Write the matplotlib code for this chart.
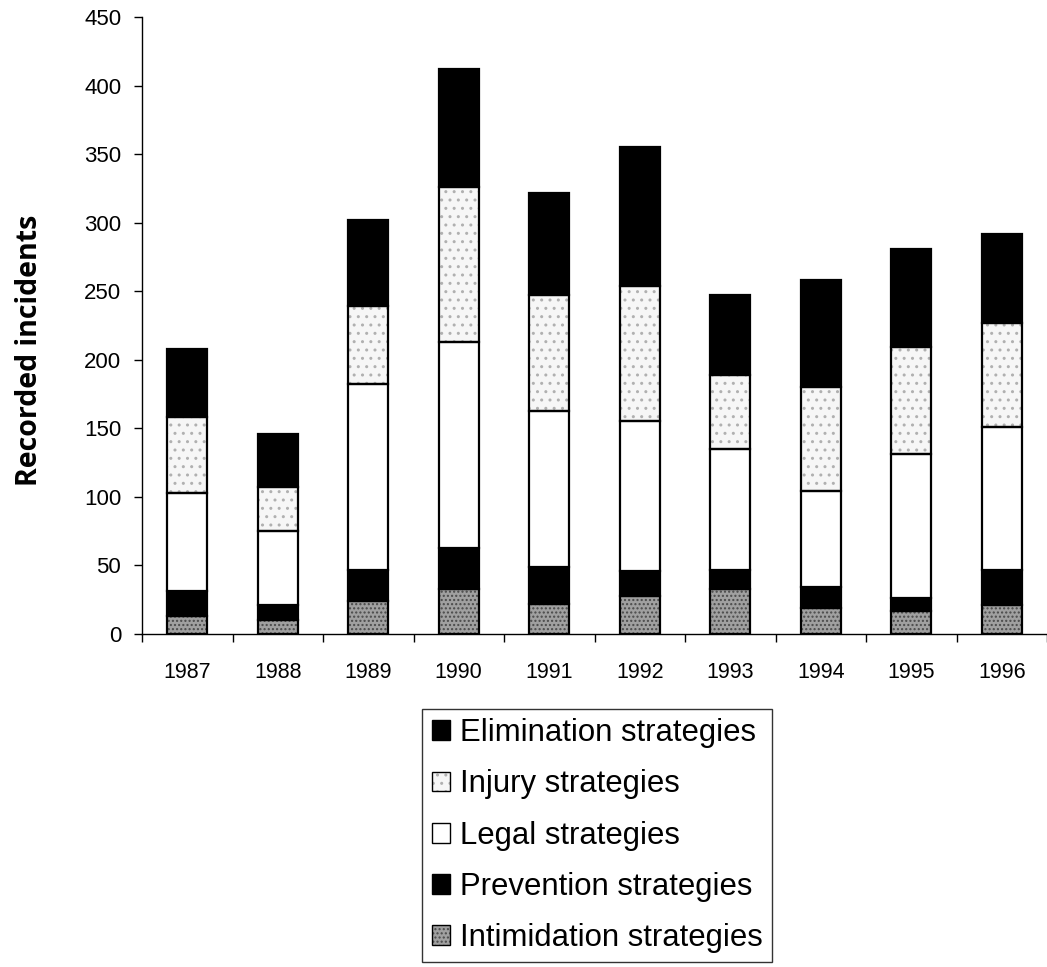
import matplotlib
matplotlib.use("Agg")
import matplotlib.pyplot as plt
from matplotlib.patches import Patch
from matplotlib.legend_handler import HandlerTuple
import numpy as np

years = ["1987", "1988", "1989", "1990", "1991", "1992", "1993", "1994", "1995", "1996"]
intimidation = [13, 10, 24, 33, 22, 28, 33, 19, 17, 21]
prevention = [18, 11, 23, 30, 27, 18, 14, 15, 9, 26]
legal = [72, 54, 135, 150, 114, 109, 88, 70, 105, 104]
injury = [55, 32, 57, 113, 84, 99, 54, 76, 78, 76]
elimination = [50, 39, 63, 86, 75, 101, 58, 78, 72, 65]

series = [
    ("Intimidation strategies", intimidation, "#a0a0a0", "#4a4a4a", "...."),
    ("Prevention strategies", prevention, "black", None, None),
    ("Legal strategies", legal, "white", None, None),
    ("Injury strategies", injury, "#f6f6f6", "#b0b0b0", ".."),
    ("Elimination strategies", elimination, "black", None, None),
]

plt.rcParams["font.family"] = ["Liberation Sans", "DejaVu Sans"]

fig = plt.figure(figsize=(10.47, 9.67), dpi=100)
ax = fig.add_axes([142 / 1047, 1 - 634 / 967, 1 - 142 / 1047, (634 - 17) / 967])

x = np.arange(len(years))
width = 0.44
bottom = np.zeros(len(years))
handles = {}
for name, vals, face, hcol, hatch in series:
    vals = np.array(vals, dtype=float)
    if hatch:
        ax.bar(x, vals, width, bottom=bottom, color=face, edgecolor=hcol,
               hatch=hatch, linewidth=0, zorder=2)
        ax.bar(x, vals, width, bottom=bottom, fill=False, edgecolor="black",
               linewidth=1.6, zorder=3)
        h = (Patch(facecolor=face, edgecolor=hcol, hatch=hatch, linewidth=0),
             Patch(fill=False, edgecolor="black", linewidth=1.0))
    else:
        ax.bar(x, vals, width, bottom=bottom, color=face, edgecolor="black",
               linewidth=1.6, zorder=3)
        h = Patch(facecolor=face, edgecolor="black", linewidth=1.0)
    handles[name] = h
    bottom += vals

ax.set_xlim(-0.5, 9.5 - 3 / 90.8)
ax.set_ylim(0, 450)
ax.set_yticks(np.arange(0, 451, 50))
ax.tick_params(axis="y", labelsize=16, length=6, width=1, pad=9, direction="out")

# Category boundaries carry the tick marks; labels sit at bar centres
ax.set_xticks(np.arange(-0.5, 9.6, 1.0))
ax.set_xticklabels([])
ax.tick_params(axis="x", which="major", length=6, width=1, direction="out")
ax.set_xticks(x, minor=True)
ax.set_xticklabels(years, minor=True)
ax.tick_params(axis="x", which="minor", length=0, labelsize=15.5, pad=20)

for s in ["top", "right"]:
    ax.spines[s].set_visible(False)
for s in ["left", "bottom"]:
    ax.spines[s].set_linewidth(1.0)

ax.set_ylabel("Recorded incidents", fontsize=20.5, fontweight="bold",
              family=["Open Sans", "DejaVu Sans"])
ax.yaxis.set_label_coords(-0.108, 0.46)

order = ["Elimination strategies", "Injury strategies", "Legal strategies",
         "Prevention strategies", "Intimidation strategies"]
leg = fig.legend([handles[n] for n in order], order,
                 loc="upper center", bbox_to_anchor=(597 / 1047, 1 - 709 / 967),
                 fontsize=22.4, frameon=True, fancybox=False, edgecolor="black",
                 handlelength=0.6, handleheight=0.6, handletextpad=0.3,
                 labelspacing=0.68, borderpad=0.3, borderaxespad=0,
                 handler_map={tuple: HandlerTuple(ndivide=1, pad=0)})
leg.get_frame().set_linewidth(1.0)

fig.savefig("out.png", dpi=100)
